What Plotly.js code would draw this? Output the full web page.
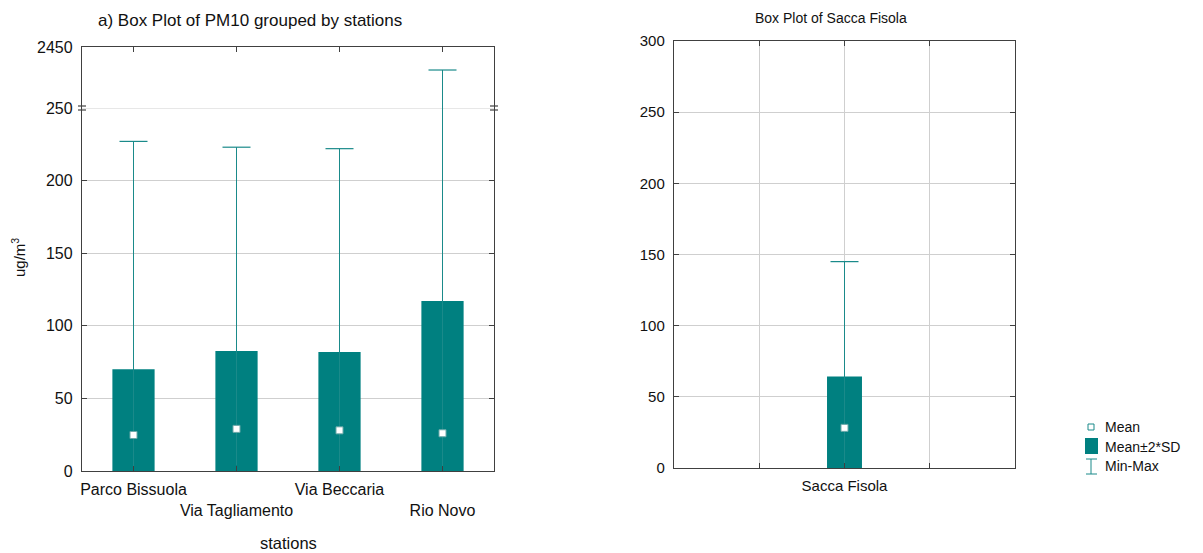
<!DOCTYPE html>
<html>
<head>
<meta charset="utf-8">
<script src="https://cdn.plot.ly/plotly-3.0.1.min.js"></script>
<style>html,body{margin:0;padding:0;background:#fff;}#chart{width:1203px;height:553px;}</style>
</head>
<body>
<div id="chart"></div>
<script>
// ---- data ----
const stations = ['Parco Bissuola', 'Via Tagliamento', 'Via Beccaria', 'Rio Novo'];
const stationMean = [24.8, 29, 28, 26];
const stationSD = [22.6, 26.8, 27, 45.5];
const stationMin = [3, 4, 3, 2];
const stationMax = [227, 223, 222, 1620];

const site = ['Sacca Fisola'];
const siteMean = [28.2];
const siteSD = [18];
const siteMin = [3];
const siteMax = [145];

const leftLowerTicks = [0, 50, 100, 150, 200, 250];
const leftUpperTicks = [2450];
const axisBreak = 250;
const rightTicks = [0, 50, 100, 150, 200, 250, 300];
const legendLabels = ['Mean', 'Mean\u00b12*SD', 'Min-Max'];

// ---- style ----
const TEAL = '#008080';
const WHISK = '#1a8a8a';
const GRID = '#cfcfcf';
const AX = '#404040';
const FONT = 'Liberation Sans, Arial, sans-serif';
const W = 1203, H = 553;
const px = x => x / W;
const py = y => 1 - y / H;

const traces = [];

// left: boxes
traces.push({
  type: 'bar', x: stations,
  base: stationMean.map((m, i) => m - 2 * stationSD[i]),
  y: stationSD.map(s => 4 * s),
  width: 0.41, marker: {color: TEAL, line: {width: 0}},
  xaxis: 'x', yaxis: 'y', showlegend: false, hoverinfo: 'skip'
});
// left: whiskers
{
  const xs = [], ys = [];
  stations.forEach((s, i) => {
    xs.push(s, s, null);
    ys.push(stationMin[i], Math.min(stationMax[i], axisBreak), null);
  });
  traces.push({type: 'scatter', mode: 'lines', x: xs, y: ys, line: {color: WHISK, width: 1},
    xaxis: 'x', yaxis: 'y', showlegend: false, hoverinfo: 'skip', cliponaxis: false});
  const cx = [], cy = [], ux = [], uy = [], ulx = [], uly = [];
  stations.forEach((s, i) => {
    if (stationMax[i] <= axisBreak) { cx.push(s); cy.push(stationMax[i]); }
    else { ux.push(s); uy.push(stationMax[i]); ulx.push(s, s, null); uly.push(axisBreak, stationMax[i], null); }
  });
  traces.push({type: 'scatter', mode: 'markers', x: cx, y: cy,
    marker: {symbol: 'line-ew', size: 20, line: {color: WHISK, width: 1.2}},
    xaxis: 'x', yaxis: 'y', showlegend: false, hoverinfo: 'skip', cliponaxis: false});
  traces.push({type: 'scatter', mode: 'lines', x: ulx, y: uly, line: {color: WHISK, width: 1},
    xaxis: 'x3', yaxis: 'y3', showlegend: false, hoverinfo: 'skip', cliponaxis: false});
  traces.push({type: 'scatter', mode: 'markers', x: ux, y: uy,
    marker: {symbol: 'line-ew', size: 20, line: {color: WHISK, width: 1.2}},
    xaxis: 'x3', yaxis: 'y3', showlegend: false, hoverinfo: 'skip', cliponaxis: false});
}
// left: means
traces.push({type: 'scatter', mode: 'markers', x: stations, y: stationMean,
  marker: {symbol: 'square', size: 7, color: '#ffffff', line: {color: '#6aa8a8', width: 1}},
  xaxis: 'x', yaxis: 'y', showlegend: false, hoverinfo: 'skip'});

// right: box (site placed at index positions on a linear axis)
const siteX = site.map((s, i) => i);
traces.push({
  type: 'bar', x: siteX,
  base: siteMean.map((m, i) => m - 2 * siteSD[i]),
  y: siteSD.map(s => 4 * s),
  width: 0.41, marker: {color: TEAL, line: {width: 0}},
  xaxis: 'x2', yaxis: 'y2', showlegend: false, hoverinfo: 'skip'
});
traces.push({type: 'scatter', mode: 'lines', x: [siteX[0], siteX[0]], y: [siteMin[0], siteMax[0]],
  line: {color: WHISK, width: 1}, xaxis: 'x2', yaxis: 'y2', showlegend: false, hoverinfo: 'skip'});
traces.push({type: 'scatter', mode: 'markers', x: siteX, y: siteMax,
  marker: {symbol: 'line-ew', size: 20, line: {color: WHISK, width: 1.2}},
  xaxis: 'x2', yaxis: 'y2', showlegend: false, hoverinfo: 'skip'});
traces.push({type: 'scatter', mode: 'markers', x: siteX, y: siteMean,
  marker: {symbol: 'square', size: 7, color: '#ffffff', line: {color: '#6aa8a8', width: 1}},
  xaxis: 'x2', yaxis: 'y2', showlegend: false, hoverinfo: 'skip'});

const tickFont = {family: FONT, size: 16, color: '#111'};
const xL = [px(82), px(494)];
const xR = [px(674), px(1015)];

const layout = {
  width: W, height: H,
  margin: {l: 0, r: 0, t: 0, b: 0},
  paper_bgcolor: '#fff', plot_bgcolor: '#fff',
  showlegend: false,
  font: {family: FONT, color: '#111'},
  xaxis: {
    domain: xL, anchor: 'y', type: 'category', categoryarray: stations,
    range: [-0.5, stations.length - 0.5],
    tickvals: stations, ticktext: stations.map((s, i) => i % 2 ? '<br>' + s : s),
    tickangle: 0,
    showline: true, linecolor: AX, linewidth: 1.2, mirror: false,
    ticks: 'inside', ticklen: 5, tickcolor: AX, showgrid: false, zeroline: false,
    tickfont: tickFont, ticklabelstandoff: 4
  },
  xaxis3: {
    domain: xL, anchor: 'y3', side: 'top', type: 'category', categoryarray: stations,
    range: [-0.5, stations.length - 0.5], tickvals: stations,
    showline: true, linecolor: AX, linewidth: 1.2, showticklabels: false,
    ticks: 'inside', ticklen: 5, tickcolor: AX, showgrid: false, zeroline: false
  },
  yaxis: {
    domain: [py(471), py(108)], anchor: 'x', range: [0, axisBreak],
    tickvals: leftLowerTicks, showline: true, linecolor: AX, linewidth: 1.2, mirror: 'ticks',
    ticks: 'inside', ticklen: 5, tickcolor: AX, showgrid: true, gridcolor: GRID, gridwidth: 1,
    zeroline: false, tickfont: tickFont, ticklabelstandoff: 5
  },
  yaxis3: {
    domain: [py(108), py(47)], anchor: 'x3', range: [axisBreak, leftUpperTicks[0]],
    tickvals: leftUpperTicks, showline: true, linecolor: AX, linewidth: 1.2, mirror: 'ticks',
    ticks: 'inside', ticklen: 5, tickcolor: AX, showgrid: false,
    zeroline: false, tickfont: tickFont, ticklabelstandoff: 5
  },
  xaxis2: {
    domain: xR, anchor: 'y2', type: 'linear', range: [-2, 2],
    tickvals: siteX, ticktext: site, tickangle: 0,
    showline: true, linecolor: AX, linewidth: 1.2, mirror: 'ticks',
    ticks: 'inside', ticklen: 5, tickcolor: AX, showgrid: true, gridcolor: GRID, zeroline: false,
    minor: {tickmode: 'linear', tick0: 0, dtick: 1, ticks: 'inside', ticklen: 5, tickcolor: AX,
            showgrid: true, gridcolor: GRID, gridwidth: 1},
    tickfont: {family: FONT, size: 15, color: '#111'}, ticklabelstandoff: 4
  },
  yaxis2: {
    domain: [py(468), py(41)], anchor: 'x2', range: [0, 300],
    tickvals: rightTicks, showline: true, linecolor: AX, linewidth: 1.2, mirror: 'ticks',
    ticks: 'inside', ticklen: 5, tickcolor: AX, showgrid: true, gridcolor: GRID, zeroline: false,
    tickfont: {family: FONT, size: 15, color: '#111'}, ticklabelstandoff: 5
  },
  shapes: [
    {type: 'line', xref: 'paper', yref: 'y', x0: xL[0], x1: xL[1], y0: axisBreak, y1: axisBreak,
     line: {color: GRID, width: 1}, layer: 'below'},
    {type: 'line', xref: 'paper', yref: 'paper', x0: px(78), x1: px(86), y0: py(106), y1: py(106), line: {color: AX, width: 1.2}},
    {type: 'line', xref: 'paper', yref: 'paper', x0: px(78), x1: px(86), y0: py(110), y1: py(110), line: {color: AX, width: 1.2}},
    {type: 'line', xref: 'paper', yref: 'paper', x0: px(490), x1: px(498), y0: py(106), y1: py(106), line: {color: AX, width: 1.2}},
    {type: 'line', xref: 'paper', yref: 'paper', x0: px(490), x1: px(498), y0: py(110), y1: py(110), line: {color: AX, width: 1.2}},
    {type: 'rect', xref: 'paper', yref: 'paper', x0: px(1088), x1: px(1094), y0: py(430), y1: py(424),
     line: {color: WHISK, width: 1}, fillcolor: '#fff'},
    {type: 'rect', xref: 'paper', yref: 'paper', x0: px(1085), x1: px(1098), y0: py(454), y1: py(438),
     line: {width: 0}, fillcolor: TEAL},
    {type: 'line', xref: 'paper', yref: 'paper', x0: px(1091), x1: px(1091), y0: py(459), y1: py(474), line: {color: WHISK, width: 1}},
    {type: 'line', xref: 'paper', yref: 'paper', x0: px(1086), x1: px(1097), y0: py(459), y1: py(459), line: {color: WHISK, width: 1}},
    {type: 'line', xref: 'paper', yref: 'paper', x0: px(1086), x1: px(1097), y0: py(474), y1: py(474), line: {color: WHISK, width: 1}}
  ],
  annotations: [
    {xref: 'paper', yref: 'paper', x: px(250), y: py(20), text: 'a) Box Plot of PM10 grouped by stations',
     showarrow: false, xanchor: 'center', yanchor: 'middle', font: {family: FONT, size: 17, color: '#111'}},
    {xref: 'paper', yref: 'paper', x: px(831), y: py(18), text: 'Box Plot of ' + site[0],
     showarrow: false, xanchor: 'center', yanchor: 'middle', font: {family: FONT, size: 14, color: '#111'}},
    {xref: 'paper', yref: 'paper', x: px(288), y: py(543), text: 'stations',
     showarrow: false, xanchor: 'center', yanchor: 'middle', font: {family: FONT, size: 16.5, color: '#111'}},
    {xref: 'paper', yref: 'paper', x: px(18), y: py(258), text: 'ug/m<sup>3</sup>', textangle: -90,
     showarrow: false, xanchor: 'center', yanchor: 'middle', font: {family: FONT, size: 15, color: '#111'}},
    ...legendLabels.map((t, i) => ({xref: 'paper', yref: 'paper', x: px(1103), y: py(427 + i * 19.5), text: t,
     showarrow: false, xanchor: 'left', yanchor: 'middle', font: {family: FONT, size: 14, color: '#111'}}))
  ]
};

Plotly.newPlot('chart', traces, layout, {staticPlot: true, displayModeBar: false});
</script>
</body>
</html>
